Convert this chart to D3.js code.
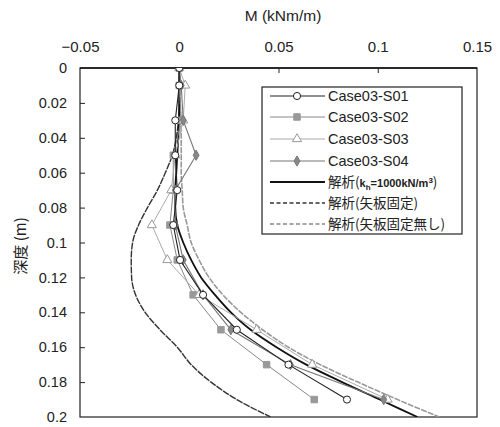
<!DOCTYPE html>
<html><head><meta charset="utf-8">
<script src="https://cdn.jsdelivr.net/npm/d3@7"></script>
<style>body{margin:0;background:#fff;} svg{display:block;}</style>
</head><body>
<svg id="c" width="500" height="427"></svg>
<script>
// ---- data ----
const depthsExp = [0, 0.01, 0.03, 0.05, 0.07, 0.09, 0.11, 0.13, 0.15, 0.17, 0.19];
const s01 = [0, 0, -0.002, -0.002, -0.001, -0.003, 0.0004, 0.012, 0.029, 0.055, 0.0845];
const s02 = [0, 0, 0.001, -0.003, -0.003, -0.0047, -0.001, 0.007, 0.021, 0.044, 0.068];
const s03 = [0, 0.003, 0.002, -0.002, -0.004, -0.0138, -0.006, 0.010, 0.039, 0.067, 0.105];
const s04 = [0, 0.001, 0.002, 0.0085, -0.002, -0.002, 0.002, 0.012, 0.026, 0.056, 0.103];

const depthsAna = [0, 0.02, 0.04, 0.05, 0.06, 0.07, 0.08, 0.09, 0.10, 0.11, 0.12, 0.13, 0.14, 0.15, 0.16, 0.17, 0.18, 0.19, 0.20];
const anaKh   = [0, 0, -0.0005, -0.001, -0.0015, -0.002, -0.002, -0.001, 0.002, 0.006, 0.011, 0.018, 0.026, 0.036, 0.049, 0.064, 0.082, 0.101, 0.120];
const anaFix  = [0, 0, -0.0015, -0.0035, -0.007, -0.011, -0.0160, -0.0205, -0.0235, -0.0242, -0.0240, -0.022, -0.0172, -0.0097, -0.001, 0.006, 0.016, 0.029, 0.046];
const anaFree = [0, 0.0005, 0.001, 0.001, 0.001, 0.0015, 0.002, 0.004, 0.006, 0.010, 0.015, 0.022, 0.031, 0.042, 0.055, 0.071, 0.090, 0.110, 0.131];

const xTicks = [-0.05, 0, 0.05, 0.1, 0.15];
const yTicks = [0, 0.02, 0.04, 0.06, 0.08, 0.1, 0.12, 0.14, 0.16, 0.18, 0.2];
const legendLabels = ["Case03-S01", "Case03-S02", "Case03-S03", "Case03-S04"];

// ---- layout ----
const svg = d3.select("#c");
const L = 80, R = 477, T = 68, B = 417;
const x = d3.scaleLinear().domain([-0.05, 0.15]).range([L, R]);
const y = d3.scaleLinear().domain([0, 0.2]).range([T, B]);
const font = "'Liberation Sans', Arial, sans-serif";
const cjk = "'Noto Sans CJK JP', 'Liberation Sans', sans-serif";

// frame
svg.append("rect").attr("x", L).attr("y", T).attr("width", R - L).attr("height", B - T)
  .attr("fill", "none").attr("stroke", "#222").attr("stroke-width", 1.2);
svg.append("line").attr("x1", L).attr("x2", R).attr("y1", T).attr("y2", T).attr("stroke", "#111").attr("stroke-width", 1.6);

// top axis
const xAxis = d3.axisTop(x).tickValues(xTicks).tickSize(0).tickPadding(16)
  .tickFormat(d => d3.format("")(+d.toFixed(2)));
const gx = svg.append("g").attr("transform", `translate(0,${T})`).call(xAxis);
gx.select(".domain").remove();
gx.selectAll("text").attr("font-family", font).attr("font-size", 15).attr("fill", "#222");
gx.selectAll(".tick").filter(d => d > -0.05 && d < 0.15).append("line")
  .attr("y1", 0).attr("y2", 5).attr("stroke", "#222");

// left axis
const yAxis = d3.axisLeft(y).tickValues(yTicks).tickSize(0).tickPadding(13)
  .tickFormat(d => d3.format("")(+d.toFixed(2)));
const gy = svg.append("g").attr("transform", `translate(${L},0)`).call(yAxis);
gy.select(".domain").remove();
gy.selectAll("text").attr("font-family", font).attr("font-size", 14.5).attr("fill", "#222");
gy.selectAll(".tick").filter(d => d > 0 && d < 0.2).append("line")
  .attr("x1", 0).attr("x2", 5).attr("stroke", "#222");

// titles
svg.append("text").attr("x", 283).attr("y", 21).attr("text-anchor", "middle")
  .attr("font-family", font).attr("font-size", 15.5).attr("fill", "#222").text("M (kNm/m)");
svg.append("text").attr("transform", "translate(26,246) rotate(-90)").attr("text-anchor", "middle")
  .attr("font-family", cjk).attr("font-size", 15).attr("fill", "#222").text("深度 (m)");

// clip
svg.append("clipPath").attr("id", "clip").append("rect")
  .attr("x", L).attr("y", T).attr("width", R - L).attr("height", B - T);
const plot = svg.append("g").attr("clip-path", "url(#clip)");

const lineAna = d3.line().x(d => x(d[1])).y(d => y(d[0])).curve(d3.curveMonotoneY);
const lineExp = d3.line().x(d => x(d[1])).y(d => y(d[0]));

function ana(vals, color, width, dash) {
  plot.append("path").datum(depthsAna.map((d, i) => [d, vals[i]]))
    .attr("d", lineAna).attr("fill", "none").attr("stroke", color)
    .attr("stroke-width", width).attr("stroke-dasharray", dash || null);
}
ana(anaFree, "#999", 1.6, "6,1.2");
ana(anaFix, "#333", 1.4, "7,1");
ana(anaKh, "#111", 1.8, null);

// experimental series
const series = [
  {v: s02, color: "#888", lw: 1, sym: d3.symbolSquare, size: 42, fill: "#999", stroke: "#999"},
  {v: s03, color: "#aaa", lw: 1, sym: d3.symbolTriangle, size: 36, fill: "#fff", stroke: "#999"},
  {v: s04, color: "#777", lw: 1.1, sym: d3.symbolDiamond, size: 30, fill: "#888", stroke: "#777"},
  {v: s01, color: "#222", lw: 1.1, sym: d3.symbolCircle, size: 40, fill: "#fff", stroke: "#222"}
];
series.forEach(s => {
  const pts = depthsExp.map((d, i) => [d, s.v[i]]);
  plot.append("path").datum(pts).attr("d", lineExp).attr("fill", "none")
    .attr("stroke", s.color).attr("stroke-width", s.lw);
  plot.selectAll(null).data(pts).enter().append("path")
    .attr("transform", d => `translate(${x(d[1])},${y(d[0])})`)
    .attr("d", d3.symbol().type(s.sym).size(s.size))
    .attr("fill", s.fill).attr("stroke", s.stroke).attr("stroke-width", 1);
});

// legend
const lg = svg.append("g");
lg.append("rect").attr("x", 262).attr("y", 87).attr("width", 200).attr("height", 147)
  .attr("fill", "#fff").attr("stroke", "#222").attr("stroke-width", 1.2);
const legRows = [96, 117, 139, 161, 182, 203, 224];
const legSeries = [series[3], series[0], series[1], series[2]];
legSeries.forEach((s, i) => {
  const yy = legRows[i];
  lg.append("line").attr("x1", 270).attr("x2", 325).attr("y1", yy).attr("y2", yy)
    .attr("stroke", s.color).attr("stroke-width", s.lw);
  lg.append("path").attr("transform", `translate(297,${yy})`)
    .attr("d", d3.symbol().type(s.sym).size(s.size)).attr("fill", s.fill).attr("stroke", s.stroke);
  lg.append("text").attr("x", 328).attr("y", yy + 5).attr("font-family", font)
    .attr("font-size", 14.5).attr("fill", "#222").text(legendLabels[i]);
});
const anaLeg = [
  {color: "#111", w: 1.8, dash: null},
  {color: "#333", w: 1.3, dash: "4,2.5"},
  {color: "#888", w: 1.3, dash: "4,2.5"}
];
anaLeg.forEach((a, i) => {
  const yy = legRows[4 + i];
  lg.append("line").attr("x1", 270).attr("x2", 325).attr("y1", yy).attr("y2", yy)
    .attr("stroke", a.color).attr("stroke-width", a.w).attr("stroke-dasharray", a.dash);
});
const t1 = lg.append("text").attr("x", 328).attr("y", legRows[4] + 5).attr("font-family", cjk)
  .attr("font-size", 13.5).attr("fill", "#222");
t1.append("tspan").text("解析(");
t1.append("tspan").attr("font-family", font).attr("font-size", 11).attr("font-weight", "bold").text("k");
t1.append("tspan").attr("font-family", font).attr("font-size", 8).attr("font-weight", "bold").attr("dy", 3).text("h");
t1.append("tspan").attr("font-family", font).attr("font-size", 11).attr("font-weight", "bold").attr("dy", -3).text("=1000kN/m");
t1.append("tspan").attr("font-family", font).attr("font-size", 8).attr("font-weight", "bold").attr("dy", -4).text("3");
t1.append("tspan").attr("dy", 4).text(")");
lg.append("text").attr("x", 328).attr("y", legRows[5] + 5).attr("font-family", cjk)
  .attr("font-size", 13.5).attr("fill", "#222").text("解析(矢板固定)");
lg.append("text").attr("x", 328).attr("y", legRows[6] + 5).attr("font-family", cjk)
  .attr("font-size", 13.5).attr("fill", "#222").text("解析(矢板固定無し)");
</script>
</body></html>
